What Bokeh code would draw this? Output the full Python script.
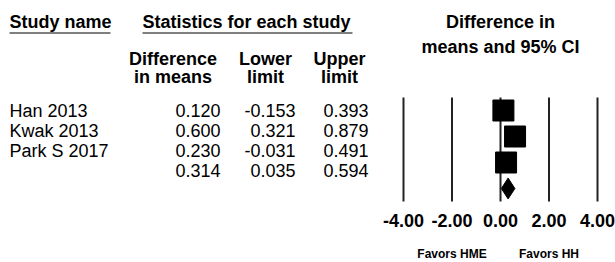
from bokeh.plotting import figure
from bokeh.models import Range1d, ColumnDataSource
from bokeh.core.properties import value
from bokeh.embed import file_html
from bokeh.resources import INLINE

# ---- data ----
studies = ["Han 2013", "Kwak 2013", "Park S 2017", ""]
diff = [0.120, 0.600, 0.230, 0.314]
lower = [-0.153, 0.321, -0.031, 0.035]
upper = [0.393, 0.879, 0.491, 0.594]
ticks = [-4.0, -2.0, 0.0, 2.0, 4.0]
tick_labels = ["-4.00", "-2.00", "0.00", "2.00", "4.00"]
favors = ["Favors HME", "Favors HH"]
favors_x = [-2.0, 2.0]

FONT = value("Liberation Sans")
W, H = 615, 262
DY = 7.0          # correction for svg alphabetic baseline placement
PXU = 24.25       # pixels per unit on the effect axis

p = figure(width=W, height=H, output_backend="svg", toolbar_location=None, title=None,
           x_range=Range1d(-4 - 403 / PXU, 4 + (W - 597) / PXU),
           y_range=Range1d(H, 0), min_border=0)
p.axis.visible = False
p.grid.visible = False
p.outline_line_color = None
p.background_fill_color = "white"
p.border_fill_color = "white"

b0 = 117.3 - DY
p.extra_x_ranges = {"px": Range1d(0, W)}
p.extra_y_ranges = {
    "trow": Range1d((H - b0) / 20.0, -b0 / 20.0),
    "frow": Range1d((H - 110.0) / 26.0, -110.0 / 26.0),
}

n = len(studies)
rows = list(range(n))


def txt(x, y, s, align="left", bold=True, size="18px", xr="px"):
    kw = {}
    if xr != "default":
        kw["x_range_name"] = xr
    p.text(x=x, y=[v - DY for v in y], text=s, text_font=FONT, text_font_size=size,
           text_font_style="bold" if bold else "normal", text_align=align,
           text_baseline="alphabetic", text_color="black", **kw)


# ---- headers ----
txt([9], [28.3], ["Study name"])
txt([142], [28.3], ["Statistics for each study"])
p.segment(x0=[9, 142], y0=[32.5, 32.5], x1=[110, 352], y1=[32.5, 32.5],
          line_color="#555555", line_width=1.5, x_range_name="px")

txt([172.5, 172.5], [65, 83], ["Difference", "in means"], align="center")
txt([265, 265], [65, 83], ["Lower", "limit"], align="center")
txt([339, 339], [65, 83], ["Upper", "limit"], align="center")

txt([0, 0], [28.3, 53.3], ["Difference in", "means and 95% CI"], align="center", xr="default")

# ---- table rows ----
src = ColumnDataSource(dict(
    row=rows, study=studies,
    d=[f"{v:.3f}" for v in diff],
    lo=[f"{v:.3f}" for v in lower],
    up=[f"{v:.3f}" for v in upper],
))
for col, xpos, align in [("study", 9, "left"), ("d", 220, "right"),
                         ("lo", 295, "right"), ("up", 368, "right")]:
    p.text(x=xpos, y="row", text=col, source=src, x_range_name="px", y_range_name="trow",
           text_font=FONT, text_font_size="18px", text_align=align,
           text_baseline="alphabetic", text_color="black")

# ---- forest plot ----
p.segment(x0=ticks, x1=ticks, y0=[-0.5] * len(ticks), y1=[n - 0.5] * len(ticks),
          line_color="#222222", line_width=2, y_range_name="frow")

fsrc = ColumnDataSource(dict(row=rows[:-1], d=diff[:-1], lo=lower[:-1], up=upper[:-1]))
p.segment(x0="lo", x1="up", y0="row", y1="row", source=fsrc, line_color="black",
          line_width=1.5, y_range_name="frow")
p.scatter(x="d", y="row", source=fsrc, marker="square", size=21, fill_color="black",
          line_color="black", y_range_name="frow")

s = n - 1
p.patch(x=[lower[s], diff[s], upper[s], diff[s]],
        y=[s, s - 0.4, s, s + 0.4], fill_color="black", line_color="black",
        y_range_name="frow")

txt(ticks, [227.3] * len(ticks), tick_labels, align="center", xr="default")
txt(favors_x, [260] * len(favors_x), favors, align="center", size="12px", xr="default")

open("out.html", "w").write(file_html(p, INLINE))
